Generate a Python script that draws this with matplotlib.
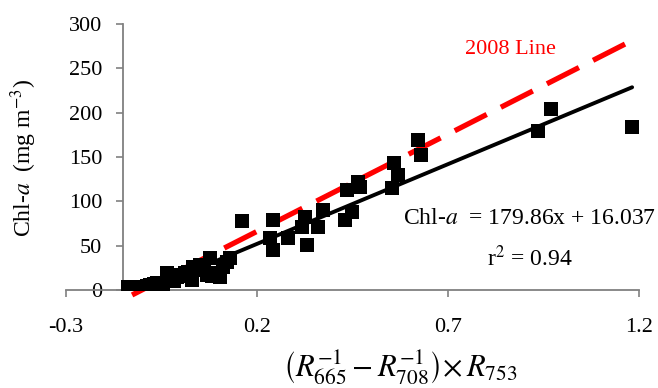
import matplotlib
matplotlib.use("Agg")
import matplotlib.pyplot as plt
import numpy as np

plt.rcParams['font.family'] = ['Liberation Serif', 'DejaVu Serif']
plt.rcParams['mathtext.fontset'] = 'stix'

# Observed data (x = (1/R665 - 1/R708) * R753, y = Chl-a mg m^-3)
x_obs = [-0.138, -0.130, -0.119, -0.106, -0.098, -0.088, -0.080, -0.070, -0.062,
         -0.054, -0.046, -0.036, -0.028, -0.017, -0.009, 0.001, 0.012, 0.019,
         0.025, 0.030, 0.032, 0.043, 0.051, 0.061, 0.069, 0.077, 0.082, 0.093,
         0.103, 0.111, 0.121, 0.129, 0.161, 0.242, 0.234, 0.242, 0.281, 0.326,
         0.318, 0.331, 0.360, 0.373, 0.436, 0.430, 0.449, 0.464, 0.470, 0.553,
         0.559, 0.569, 0.621, 0.629, 0.936, 0.970, 1.182]
y_obs = [3.4, 2.3, 3.4, 2.3, 3.4, 4.5, 5.6, 6.8, 7.9,
         6.8, 4.5, 19.0, 11.0, 10.0, 14.7, 17.0, 19.0, 20.0,
         16.0, 11.0, 26.0, 22.6, 28.0, 22.6, 17.0, 36.0, 16.0, 19.0,
         14.7, 26.0, 31.6, 36.0, 77.8, 79.0, 58.6, 45.0, 58.6, 82.3,
         71.0, 50.8, 71.0, 90.0, 112.8, 78.9, 88.0, 121.8, 116.0, 115.0,
         143.0, 129.7, 169.0, 152.0, 179.4, 204.0, 183.8]

# Fitted regression
slope, intercept = 179.86, 16.037
# 2008 line endpoints
line2008_x = [-0.127, 1.169]
line2008_y = [-5.6, 278.6]

x_ticks = [-0.3, 0.2, 0.7, 1.2]
x_ticklabels = ['-0.3', '0.2', '0.7', '1.2']
y_ticks = [0, 50, 100, 150, 200, 250, 300]

W, H = 658, 388
fig = plt.figure(figsize=(W/100, H/100), dpi=100)
ax = fig.add_axes([66/W, 1-290/H, 573/W, 266/H])
ax.set_xlim(-0.3, 1.2)
ax.set_ylim(0, 300)

# regression line (clipped at y=0)
xs = np.array([min(x_obs), max(x_obs)])
ys = slope*xs + intercept
ax.plot(xs, ys, color='black', lw=2.8, zorder=3, solid_capstyle='round')

# 2008 line
ax.plot(line2008_x, line2008_y, color='#ff0000', lw=3.8, dashes=(6.8, 3.0),
        zorder=2, clip_on=False)

ax.scatter(x_obs, y_obs, marker='s', s=95, color='black', zorder=4, lw=0)

for s in ['top', 'right']:
    ax.spines[s].set_visible(False)
ax.spines['left'].set_position(('data', -0.151))
for s in ['left', 'bottom']:
    ax.spines[s].set_color('#808080')
    ax.spines[s].set_linewidth(1.3)

ax.set_xticks(x_ticks)
ax.set_xticklabels(x_ticklabels)
ax.set_yticks(y_ticks)
ax.tick_params(axis='x', direction='out', length=5, width=1.2, color='#808080',
               pad=15, labelsize=16)
ax.tick_params(axis='y', direction='out', length=5, width=1.2, color='#808080',
               pad=10, labelsize=16)

fig.text(403/W, 1-218/H, r'Chl-$a$  = 179.86x + 16.037', fontsize=17,
         ha='left', va='center')
fig.text(530/W, 1-258/H, r'r$^{2}$ = 0.94', fontsize=17, ha='center', va='center')
fig.text(510/W, 1-50/H, '2008 Line', fontsize=16, color='#ff0000',
         ha='center', va='center')

fig.text(24/W, 1-158/H, r'Chl-$a$  (mg m$^{-3}$)', fontsize=17, rotation=90,
         ha='center', va='center')
fig.text(400/W, 1-368/H,
         r'$\left(R_{665}^{-1}-R_{708}^{-1}\right)\!\times R_{753}$',
         fontsize=22, ha='center', va='center')

fig.savefig('out.png', dpi=100)
